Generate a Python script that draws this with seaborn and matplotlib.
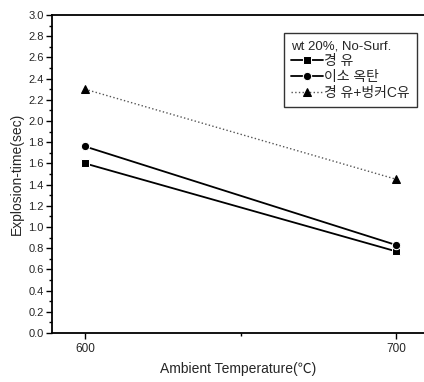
import matplotlib
matplotlib.use("Agg")
import matplotlib.pyplot as plt
import seaborn as sns
import pandas as pd
from matplotlib.ticker import MultipleLocator

temps = [600, 700]
diesel = [1.60, 0.77]
isooctane = [1.76, 0.83]
diesel_bunker = [2.30, 1.45]
series_names = ["경 유", "이소 옥탄", "경 유+벙커C유"]
legend_title = "wt 20%, No-Surf."

sns.set_theme(style="white")
plt.rcParams['font.family'] = ['Liberation Sans', 'Noto Sans CJK KR', 'DejaVu Sans']

fig = plt.figure(figsize=(4.24, 3.82), dpi=100)
ax = fig.add_axes([52/424, 1-333/382, (424-52)/424 - 0.001, (333-15)/382])

styles = [
    dict(marker="s", linestyle="-", color="black", linewidth=1.3, markersize=5.5),
    dict(marker="o", linestyle="-", color="black", linewidth=1.3, markersize=6),
    dict(marker="^", linestyle=":", color="#555555", linewidth=1.0, markersize=6,
         markerfacecolor="black", markeredgecolor="black"),
]
for vals, name, st in zip([diesel, isooctane, diesel_bunker], series_names, styles):
    df = pd.DataFrame({"T": temps, "t": vals})
    sns.lineplot(data=df, x="T", y="t", ax=ax, label=name, **st)

ax.set_xlim(589.4, 708.8)
ax.set_ylim(0, 3.0)
ax.set_xticks([600, 700])
ax.xaxis.set_minor_locator(MultipleLocator(50))
ax.yaxis.set_major_locator(MultipleLocator(0.2))
ax.yaxis.set_minor_locator(MultipleLocator(0.1))
ax.set_yticklabels([f"{v:.1f}" for v in ax.get_yticks()])
ax.tick_params(axis="both", which="major", direction="out", length=4, width=1,
               labelsize=8, color="black", pad=2, left=True, bottom=True)
ax.tick_params(axis="both", which="minor", direction="out", length=2, width=1,
               color="black", left=True, bottom=True)
ax.tick_params(axis="x", labelsize=8.5, pad=3)
for s in ["left", "bottom", "top"]:
    ax.spines[s].set_visible(True)
    ax.spines[s].set_color("black")
    ax.spines[s].set_linewidth(1.3)
ax.spines["right"].set_visible(False)

ax.set_xlabel("Ambient Temperature(℃)", fontsize=10, labelpad=5)
ax.set_ylabel("Explosion-time(sec)", fontsize=10, labelpad=3)

leg = ax.legend(title=legend_title, loc="upper right", bbox_to_anchor=(1.0, 0.965),
                frameon=True, fancybox=False, edgecolor="black", fontsize=10,
                title_fontsize=9.5, handlelength=2.3, handletextpad=0.1,
                labelspacing=0.15, borderpad=0.5)
leg._legend_box.align = "left"
leg.get_frame().set_linewidth(1.0)

fig.savefig("out.png", dpi=100)
